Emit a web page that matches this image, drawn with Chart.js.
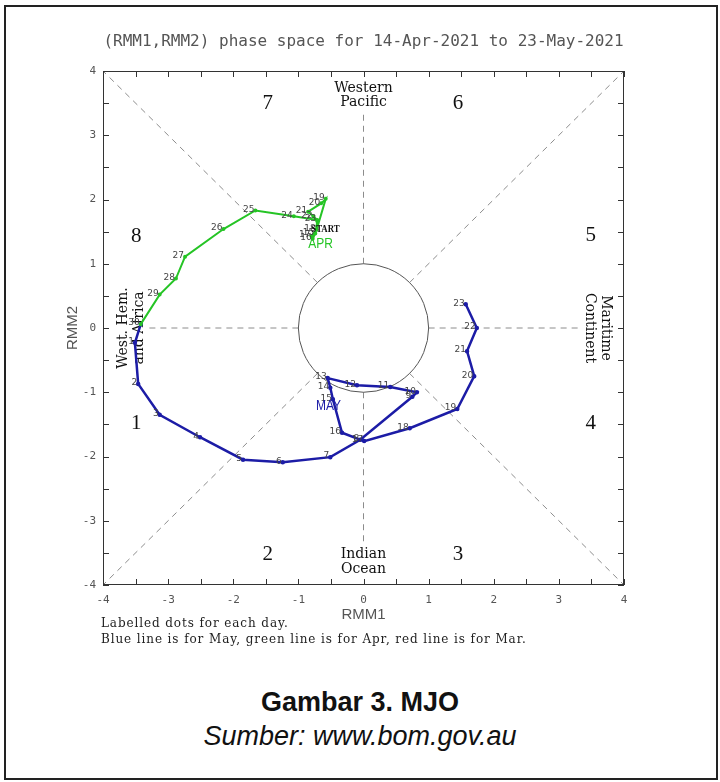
<!DOCTYPE html>
<html>
<head>
<meta charset="utf-8">
<script src="https://cdn.jsdelivr.net/npm/chart.js@4.4.0/dist/chart.umd.min.js"></script>
<style>
  body { margin: 0; background: #fff; width: 720px; height: 782px; position: relative; overflow: hidden; }
  #frame { position: absolute; left: 4px; top: 5px; width: 710px; height: 771px; border: 2px solid #222; }
  #chart { position: absolute; left: 0; top: 0; }
  .note { position: absolute; left: 101px; font: 12px "DejaVu Serif", serif; letter-spacing: 0.9px; color: #222; white-space: nowrap; }
  .cap { position: absolute; left: 0; width: 720px; text-align: center; font-family: "Liberation Sans", Arial, sans-serif; font-size: 27px; color: #111; }
</style>
</head>
<body>
<div id="frame"></div>
<canvas id="chart" width="720" height="660"></canvas>
<div class="note" style="top:616px">Labelled dots for each day.</div>
<div class="note" style="top:632px">Blue line is for May, green line is for Apr, red line is for Mar.</div>
<div class="cap" style="top:687px;font-weight:bold">Gambar 3. MJO</div>
<div class="cap" style="top:721px;font-style:italic">Sumber: www.bom.gov.au</div>

<script>
const TITLE = '(RMM1,RMM2) phase space for 14-Apr-2021 to 23-May-2021';

// April 2021 (green), first day is the START point
const aprDays = [14, 15, 16, 17, 18, 19, 20, 21, 22, 23, 24, 25, 26, 27, 28, 29, 30];
const aprRmm1 = [-0.71, -0.74, -0.78, -0.80, -0.72, -0.58, -0.65, -0.85, -0.77, -0.71, -1.07, -1.66, -2.15, -2.74, -2.88, -3.13, -3.42];
const aprRmm2 = [1.66, 1.47, 1.39, 1.43, 1.53, 2.01, 1.94, 1.81, 1.74, 1.68, 1.74, 1.83, 1.54, 1.11, 0.77, 0.52, 0.06];

// May 2021 (blue)
const mayDays = [1, 2, 3, 4, 5, 6, 7, 8, 9, 10, 11, 12, 13, 14, 15, 16, 17, 18, 19, 20, 21, 22, 23];
const mayRmm1 = [-3.51, -3.46, -3.13, -2.51, -1.85, -1.24, -0.51, -0.05, 0.75, 0.82, 0.41, -0.10, -0.55, -0.51, -0.47, -0.33, 0.01, 0.71, 1.44, 1.70, 1.59, 1.74, 1.57];
const mayRmm2 = [-0.23, -0.87, -1.35, -1.70, -2.05, -2.09, -2.01, -1.74, -1.07, -1.00, -0.92, -0.89, -0.78, -0.93, -1.11, -1.63, -1.76, -1.56, -1.26, -0.75, -0.36, 0.00, 0.37];

const phases = ['1', '2', '3', '4', '5', '6', '7', '8'];
const axisMin = -4, axisMax = 4;

const GREEN = '#25c425';
const BLUE = '#1c1ca6';

function points(xs, ys) { return xs.map((v, i) => ({ x: v, y: ys[i] })); }

// May line starts from the last April dot so the track is continuous
const aprPts = points(aprRmm1, aprRmm2);
const mayPts = [aprPts[aprPts.length - 1]].concat(points(mayRmm1, mayRmm2));
const mayLabels = [''].concat(mayDays.map(String));
const aprLabels = aprDays.map((d, i) => i == 0 ? '' : String(d));

// narrow text, like the plotter font of the original
function squeezed(ctx, text, x, y, sx) {
  ctx.save();
  ctx.translate(x, y);
  ctx.scale(sx, 1);
  ctx.fillText(text, 0, 0);
  ctx.restore();
}

const phasePlugin = {
  id: 'phaseSpace',
  beforeDatasetsDraw(chart) {
    const { ctx, scales: { x, y } } = chart;
    const px = v => x.getPixelForValue(v), py = v => y.getPixelForValue(v);
    ctx.save();

    // dashed phase boundaries, from the unit circle outwards
    ctx.strokeStyle = '#8c8c8c';
    ctx.lineWidth = 1;
    ctx.setLineDash([6, 5]);
    const d = Math.SQRT1_2;
    [[d, d, 4, 4], [-d, d, -4, 4], [d, -d, 4, -4], [-d, -d, -4, -4],
     [1, 0, 3.33, 0], [-1, 0, -3.33, 0], [0, 1, 0, 3.36], [0, -1, 0, -3.35]].forEach(s => {
      ctx.beginPath();
      ctx.moveTo(px(s[0]), py(s[1]));
      ctx.lineTo(px(s[2]), py(s[3]));
      ctx.stroke();
    });
    ctx.setLineDash([]);

    // unit circle
    ctx.strokeStyle = '#555';
    ctx.beginPath();
    ctx.ellipse(px(0), py(0), px(1) - px(0), py(0) - py(1), 0, 0, Math.PI * 2);
    ctx.stroke();

    // phase numbers
    const phasePos = [[-3.49, -1.49], [-1.47, -3.53], [1.45, -3.53], [3.49, -1.49],
                      [3.49, 1.44], [1.45, 3.5], [-1.47, 3.5], [-3.49, 1.42]];
    ctx.fillStyle = '#111';
    ctx.font = '21px "Liberation Serif", serif';
    ctx.textAlign = 'center';
    ctx.textBaseline = 'middle';
    phases.forEach((p, i) => ctx.fillText(p, px(phasePos[i][0]), py(phasePos[i][1])));

    // region names
    ctx.font = '14px "DejaVu Serif", serif';
    ctx.fillText('Western', px(0), py(3.73));
    ctx.fillText('Pacific', px(0), py(3.51));
    ctx.fillText('Indian', px(0), py(-3.53));
    ctx.fillText('Ocean', px(0), py(-3.76));

    ctx.save();
    ctx.translate(px(-3.56), py(0));
    ctx.rotate(-Math.PI / 2);
    ctx.fillText('West. Hem.', 0, -8);
    ctx.fillText('and Africa', 0, 8);
    ctx.restore();

    ctx.save();
    ctx.translate(px(3.59), py(0));
    ctx.rotate(Math.PI / 2);
    ctx.fillText('Maritime', 0, -8);
    ctx.fillText('Continent', 0, 8);
    ctx.restore();

    // title and axis names
    ctx.fillStyle = '#555';
    ctx.font = '16px "DejaVu Sans Mono", monospace';
    ctx.fillText(TITLE, px(0), 42);
    ctx.font = '15px "Liberation Sans", sans-serif';
    ctx.fillText('RMM1', px(0), 615);
    ctx.save();
    ctx.translate(73, py(0));
    ctx.rotate(-Math.PI / 2);
    ctx.fillText('RMM2', 0, 0);
    ctx.restore();

    ctx.restore();
  },
  afterDatasetsDraw(chart) {
    const { ctx, chartArea: a, scales: { x, y } } = chart;
    ctx.save();

    // day labels left of each dot
    ctx.font = '9px "DejaVu Sans", sans-serif';
    ctx.fillStyle = '#444';
    ctx.textAlign = 'right';
    ctx.textBaseline = 'middle';
    chart.data.datasets.forEach((ds, di) => {
      chart.getDatasetMeta(di).data.forEach((el, i) => {
        const t = ds.dayLabels[i];
        if (t) ctx.fillText(t, el.x - 1, el.y - 1);
      });
    });

    // START / month markers
    const s = chart.getDatasetMeta(0).data[0];
    ctx.textAlign = 'left';
    ctx.fillStyle = '#111';
    ctx.font = 'bold 11px "Liberation Serif", serif';
    squeezed(ctx, 'START', s.x - 6, s.y + 8, 0.8);
    ctx.font = '15px "Liberation Sans", sans-serif';
    ctx.fillStyle = GREEN;
    squeezed(ctx, 'APR', s.x - 9, s.y + 23, 0.8);
    const m = chart.getDatasetMeta(1).data[15];
    ctx.fillStyle = BLUE;
    squeezed(ctx, 'MAY', m.x - 17, m.y + 7, 0.8);

    // plot box with inward ticks every 0.5
    ctx.strokeStyle = '#333';
    ctx.lineWidth = 1;
    ctx.strokeRect(a.left + 0.5, a.top + 0.5, a.right - a.left - 1, a.bottom - a.top - 1);
    ctx.beginPath();
    for (let v = axisMin; v <= axisMax; v += 0.5) {
      const tx = Math.round(x.getPixelForValue(v)) + 0.5;
      const ty = Math.round(y.getPixelForValue(v)) + 0.5;
      ctx.moveTo(tx, a.top); ctx.lineTo(tx, a.top + 6);
      ctx.moveTo(tx, a.bottom); ctx.lineTo(tx, a.bottom - 6);
      ctx.moveTo(a.left, ty); ctx.lineTo(a.left + 6, ty);
      ctx.moveTo(a.right, ty); ctx.lineTo(a.right - 6, ty);
    }
    ctx.stroke();
    ctx.restore();
  }
};

const tickFont = { family: '"DejaVu Sans Mono", monospace', size: 11 };

new Chart(document.getElementById('chart'), {
  type: 'scatter',
  data: {
    datasets: [{
      label: 'Apr',
      data: aprPts,
      dayLabels: aprLabels,
      showLine: true,
      borderColor: GREEN,
      backgroundColor: GREEN,
      borderWidth: 2,
      pointRadius: 1,
      tension: 0
    }, {
      label: 'May',
      data: mayPts,
      dayLabels: mayLabels,
      showLine: true,
      borderColor: BLUE,
      backgroundColor: BLUE,
      borderWidth: 2.5,
      pointRadius: 1,
      tension: 0
    }]
  },
  options: {
    responsive: false,
    animation: false,
    layout: { padding: { left: 0, top: 71, right: 96, bottom: 0 } },
    plugins: { legend: { display: false }, tooltip: { enabled: false } },
    scales: {
      x: {
        type: 'linear', min: axisMin, max: axisMax,
        afterFit(scale) { scale.height = 75; },
        grid: { display: false, drawTicks: false },
        border: { display: false },
        ticks: { stepSize: 1, padding: 9, color: '#555', font: tickFont, maxRotation: 0 }
      },
      y: {
        type: 'linear', min: axisMin, max: axisMax,
        afterFit(scale) { scale.width = 103; },
        grid: { display: false, drawTicks: false },
        border: { display: false },
        ticks: { stepSize: 1, padding: 7, color: '#555', font: tickFont }
      }
    }
  },
  plugins: [phasePlugin]
});
</script>
</body>
</html>
